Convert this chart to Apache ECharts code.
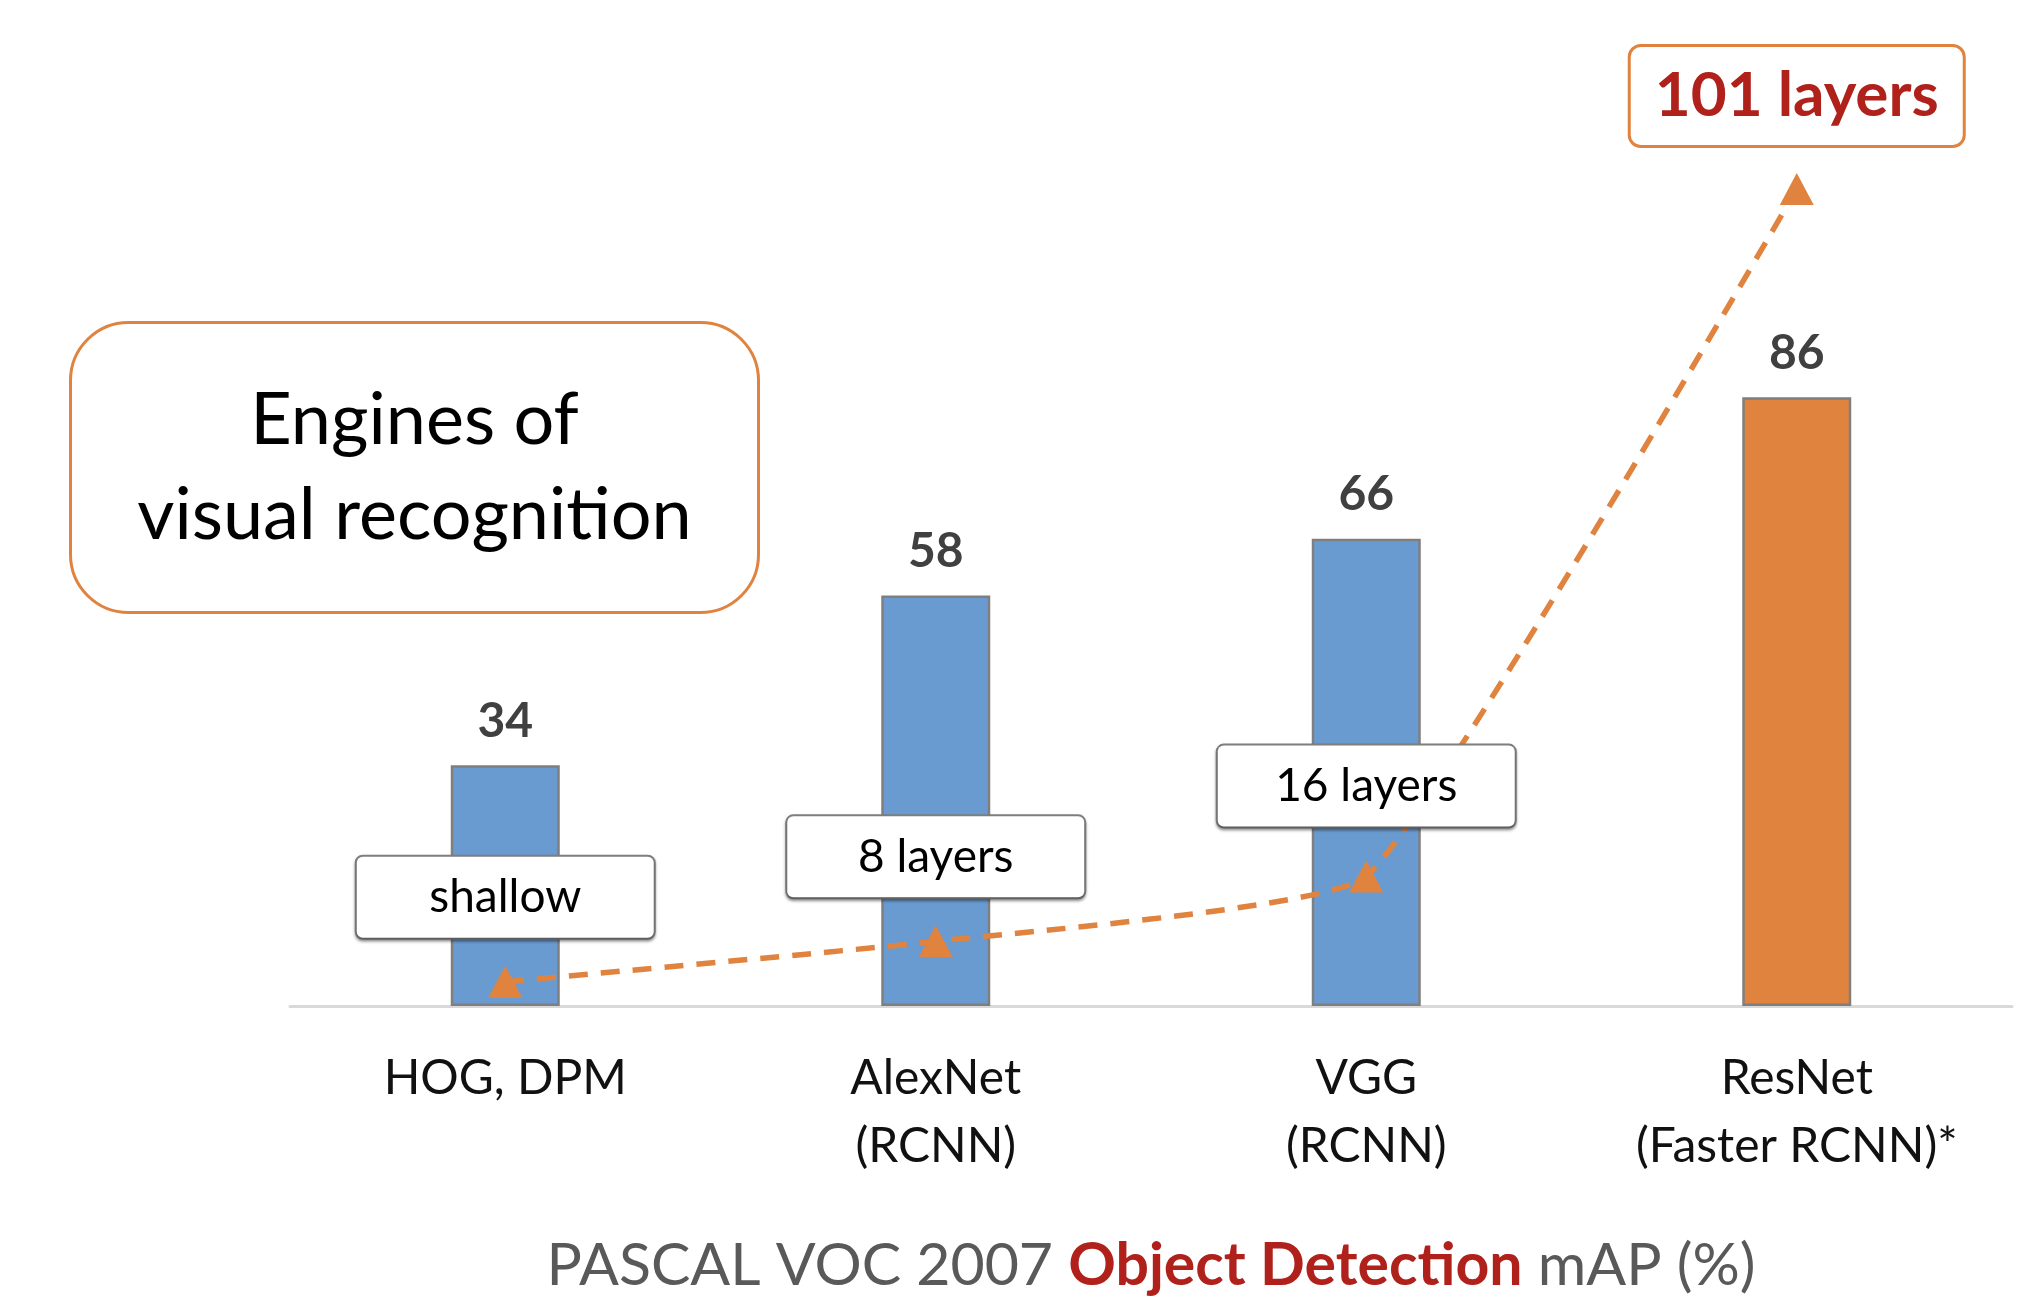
<!DOCTYPE html>
<html>
<head>
<meta charset="utf-8">
<script src="https://cdn.jsdelivr.net/npm/echarts@6/dist/echarts.min.js"></script>
<style>
html,body{margin:0;padding:0;background:#fff;}
#chart{width:2040px;height:1316px;}
</style>
</head>
<body>
<div id="chart"></div>
<script>
const categories = ['HOG, DPM', 'AlexNet\n(RCNN)', 'VGG\n(RCNN)', 'ResNet\n(Faster RCNN)*'];
const mapValues = [34, 58, 66, 86];
const barColors = ['#6A9BD0', '#6A9BD0', '#6A9BD0', '#E0833F'];
const layerDepth = [3, 8, 16, 101];
const layerLabels = ['shallow', '8 layers', '16 layers', '101 layers'];
const labelGaps = [28, 28, 34, 28];

const FONT = 'Lato, "Noto Sans", sans-serif';

const chart = echarts.init(document.getElementById('chart'), null, {renderer: 'canvas'});

const lineData = layerDepth.map((v, i) => {
  const item = { value: v, label: { distance: labelGaps[i] } };
  if (i === layerDepth.length - 1) {
    item.label = {
      distance: labelGaps[i],
      fontSize: 62,
      fontWeight: 'bold',
      color: '#B0211B',
      borderColor: '#E0833F',
      borderWidth: 3,
      borderRadius: 10,
      width: 332,
      height: 98,
      lineHeight: 98,
      shadowColor: 'transparent',
      shadowBlur: 0,
      shadowOffsetY: 0
    };
  }
  return item;
});

const option = {
  backgroundColor: '#ffffff',
  animation: false,
  grid: { left: 290, right: 28, top: 189, bottom: 310 },
  xAxis: {
    type: 'category',
    data: categories,
    axisTick: { show: false },
    axisLine: { lineStyle: { color: '#D9D9D9', width: 3 } },
    axisLabel: {
      fontFamily: FONT, fontSize: 48, color: '#111111',
      lineHeight: 68, margin: 39, interval: 0
    },
    name: '{a|PASCAL VOC 2007 }{b|Object Detection}{a| mAP (%)}',
    nameLocation: 'middle',
    nameGap: 230,
    nameTextStyle: {
      rich: {
        a: { fontFamily: FONT, fontSize: 59, color: '#595959' },
        b: { fontFamily: FONT, fontSize: 59, color: '#B0211B', fontWeight: 'bold' }
      }
    }
  },
  yAxis: [
    { type: 'value', min: 0, max: 115.4, show: false, splitLine: { show: false } },
    { type: 'value', min: 0, max: 101, show: false, splitLine: { show: false } }
  ],
  series: [
    {
      type: 'bar',
      yAxisIndex: 0,
      barWidth: 109,
      data: mapValues.map((v, i) => ({ value: v, itemStyle: { color: barColors[i] } })),
      itemStyle: { borderColor: '#7F7F7F', borderWidth: 2.5 },
      label: {
        show: true, position: 'top', distance: 20,
        fontFamily: FONT, fontSize: 48, fontWeight: 'bold', color: '#404040'
      },
      z: 2
    },
    {
      type: 'line',
      yAxisIndex: 1,
      data: lineData,
      smooth: 0.12,
      symbol: 'triangle',
      symbolSize: [34, 32],
      showSymbol: true,
      itemStyle: { color: '#E0833F' },
      lineStyle: { color: '#E0833F', width: 5.5, type: [19, 13] },
      label: {
        show: true,
        position: 'top',
        formatter: p => layerLabels[p.dataIndex],
        fontFamily: FONT,
        fontSize: 46,
        color: '#000000',
        backgroundColor: '#ffffff',
        borderColor: '#7F7F7F',
        borderWidth: 2,
        borderRadius: 6,
        width: 297,
        height: 81,
        lineHeight: 81,
        shadowColor: 'rgba(0,0,0,0.35)',
        shadowBlur: 3,
        shadowOffsetY: 2
      },
      z: 5
    }
  ],
  graphic: [
    {
      type: 'group',
      left: 69, top: 321,
      children: [
        {
          type: 'rect',
          shape: { x: 0, y: 0, width: 688, height: 290, r: 58 },
          style: { fill: '#ffffff', stroke: '#E0833F', lineWidth: 3 }
        },
        {
          type: 'text',
          x: 344, y: 146,
          style: {
            text: 'Engines of\nvisual recognition',
            fontFamily: FONT, fontSize: 72, lineHeight: 95,
            fill: '#000000', align: 'center', verticalAlign: 'middle'
          }
        }
      ]
    }
  ]
};

chart.setOption(option);
</script>
</body>
</html>
